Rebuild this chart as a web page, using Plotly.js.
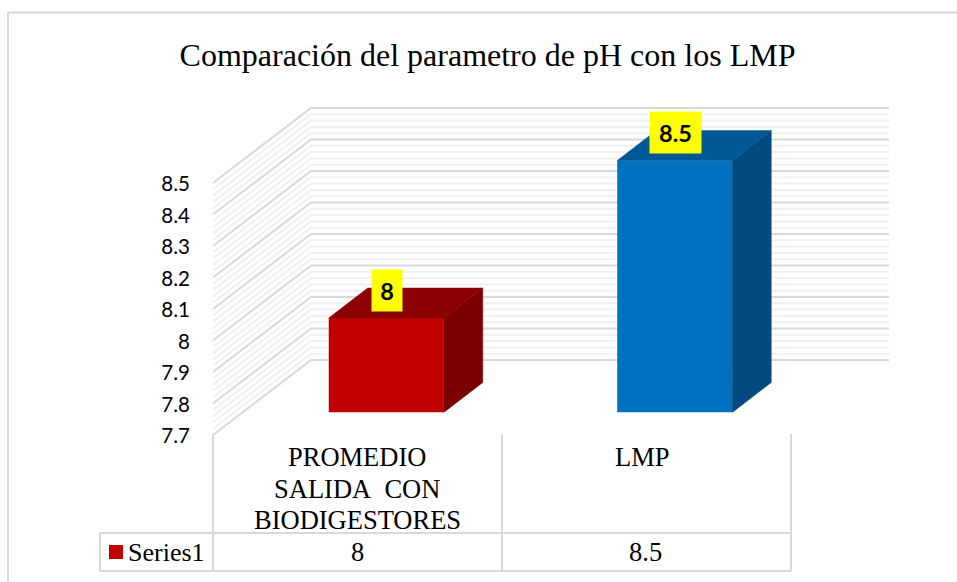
<!DOCTYPE html>
<html><head><meta charset="utf-8">
<script src="https://cdn.plot.ly/plotly-3.0.1.min.js"></script>
<style>html,body{margin:0;padding:0;background:#fff}#c{width:957px;height:582px}</style>
</head><body><div id="c"></div>
<script>
var chartTitle = 'Comparación del parametro de pH con los LMP';
var categories = ['PROMEDIO<br>SALIDA\u00a0\u00a0CON<br>BIODIGESTORES', 'LMP'];
var seriesName = 'Series1';
var values = [8, 8.5];
var tickValues = [7.7, 7.8, 7.9, 8, 8.1, 8.2, 8.3, 8.4, 8.5];
var tickLabels = ['7.7', '7.8', '7.9', '8', '8.1', '8.2', '8.3', '8.4', '8.5'];
var frontColors = ['#C00000', '#0070C0'];
var topColors = ['#8B0000', '#005896'];
var sideColors = ['#7A0000', '#004A80'];

var W = 957, H = 582;
var PX_CAT = 288.5, PX_UNIT = 315;
var BASE = 7.7;
function dx(p){return p/W;}
function dy(p){return 1-p/H;}
function catX(px){return px/PX_CAT;}
function valY(px){return px/PX_UNIT;}

// front wall plane: x=213 left, value 7.7 at y=435; bars sit deeper in the box
var L = 213, B = 435, R = 925, T = 90, barDX = 29, barDY = 22.5;
var xRange = [-0.5, -0.5 + catX(R - L)], yRange = [BASE, BASE + valY(B - T)];
var barW = 115 / PX_CAT;
var depthX = catX(39), depthY = valY(30);
var wallDX = catX(98), wallDY = valY(75), wallEndX = -0.5 + catX(889 - L);

var traces = [];
// invisible trace keeps the front-wall subplot (tick labels, wall grid) alive
traces.push({type:'scatter', mode:'markers', x:[0,1], y:values, xaxis:'x', yaxis:'y', marker:{opacity:0},
  hoverinfo:'skip', showlegend:false});
traces.push({type:'bar', x:[0,1], y:values.map(function(v){return v-BASE;}), base:BASE, width:barW,
  xaxis:'x2', yaxis:'y2', name:seriesName, showlegend:false,
  marker:{color:frontColors, line:{width:0}}, hovertemplate:'%{y}<extra></extra>'});
values.forEach(function(v,i){
  var r = i + barW/2, l = i - barW/2;
  traces.push({type:'scatter', mode:'lines', xaxis:'x2', yaxis:'y2', fill:'toself', fillcolor:sideColors[i],
    line:{width:0.5,color:sideColors[i]}, hoverinfo:'skip', showlegend:false,
    x:[r, r+depthX, r+depthX, r, r], y:[BASE, BASE+depthY, v+depthY, v, BASE]});
  traces.push({type:'scatter', mode:'lines', xaxis:'x2', yaxis:'y2', fill:'toself', fillcolor:topColors[i],
    line:{width:0.5,color:topColors[i]}, hoverinfo:'skip', showlegend:false,
    x:[l, l+depthX, r+depthX, r, l], y:[v, v+depthY, v+depthY, v, v]});
});

var shapes = [];
var n = Math.round((tickValues[tickValues.length-1]-BASE)/0.02);
for (var k=n; k>=0; k--) {
  var t = BASE + k*0.02, major = k%5===0;
  if (major) continue;
  shapes.push(gridShape(t,'#f1f1f1'));
}
for (k=n; k>=0; k-=5) shapes.push(gridShape(BASE+k*0.02,'#d9d9d9'));
function gridShape(t,c){
  return {type:'path', xref:'x', yref:'y', layer:'below', line:{color:c,width:2},
    path:'M'+(-0.5)+','+t+' L'+(-0.5+wallDX)+','+(t+wallDY)+' L'+wallEndX+','+(t+wallDY)};
}
function pline(x0,y0,x1,y1,c,w){
  return {type:'line', xref:'paper', yref:'paper', x0:dx(x0), x1:dx(x1), y0:dy(y0), y1:dy(y1), layer:'below',
    line:{color:c||'#d9d9d9', width:w||2}};
}
// chart frame
shapes.push(pline(8,12.5,957,12.5), pline(8,12.5,8,582));
// data table
var gc = '#d9d9d9';
shapes.push(pline(100,533,791,533,gc), pline(100,571,791,571,gc), pline(100,533,100,571,gc),
  pline(213,434,213,571,gc), pline(502,434,502,571,gc), pline(791,434,791,571,gc));
shapes.push({type:'rect', xref:'paper', yref:'paper', x0:dx(109), x1:dx(123), y0:dy(559), y1:dy(545),
  fillcolor:frontColors[0], line:{width:0}});

var serif = '"Liberation Serif","Times New Roman",serif', sans = 'Lato,"Open Sans",sans-serif';
var annotations = [];
// data labels
values.forEach(function(v,i){
  annotations.push({xref:'x2', yref:'y2', x:i, y:v+valY(28), text:'<b>'+v+'</b>', showarrow:false,
    xanchor:'center', yanchor:'middle', xshift:1,
    bgcolor:'#FFFF00', width:i?51:30, height:41, borderpad:0, valign:'middle', align:'center',
    font:{family:sans, size:23.5, color:'#000'}});
});
// category labels (line by line, spacing wider than a tick label allows)
categories.forEach(function(c,i){
  c.split('<br>').forEach(function(line,j){
    annotations.push({xref:'x', yref:'paper', x:i, y:dy(457+31.5*j), text:line, showarrow:false,
      xanchor:'center', yanchor:'middle',
      xshift:i?-3:0, font:{family:serif, size:26.5, color:'#000'}});
  });
  annotations.push({xref:'x', yref:'paper', x:i, y:dy(552), text:String(values[i]), showarrow:false,
    xanchor:'center', yanchor:'middle',
    font:{family:serif, size:26.5, color:'#000'}});
});
annotations.push({xref:'paper', yref:'paper', x:dx(127), xanchor:'left', yanchor:'middle', y:dy(552), text:seriesName, showarrow:false,
  borderpad:0, font:{family:serif, size:26, color:'#000'}});

var layout = {
  width:W, height:H, margin:{l:0,r:0,t:0,b:0,pad:0}, paper_bgcolor:'#fff', plot_bgcolor:'rgba(0,0,0,0)',
  showlegend:false, hovermode:'closest',
  title:{text:chartTitle, x:dx(487.5), xanchor:'center', y:dy(55), yanchor:'middle',
    font:{family:serif, size:32, color:'#000'}},
  xaxis:{domain:[dx(L),dx(R)], range:xRange, showgrid:false, zeroline:false, showline:false, showticklabels:false, ticks:'', fixedrange:true},
  xaxis2:{domain:[dx(L+barDX),dx(R+barDX)], range:xRange, anchor:'y2', showgrid:false, zeroline:false, showline:false, showticklabels:false, ticks:'', fixedrange:true},
  yaxis:{domain:[dy(B),dy(T)], range:yRange, tickmode:'array', tickvals:tickValues, ticktext:tickLabels,
    ticks:'outside', ticklen:18, tickcolor:'rgba(0,0,0,0)', tickwidth:1, showgrid:false, zeroline:false, showline:false,
    ticklabelshift:1, tickfont:{family:sans, size:20.5, color:'#000'}, fixedrange:true},
  yaxis2:{domain:[dy(B-barDY),dy(T-barDY)], range:yRange, anchor:'x2', showgrid:false, zeroline:false, showline:false, showticklabels:false, ticks:'', fixedrange:true},
  shapes:shapes, annotations:annotations
};
Plotly.newPlot('c', traces, layout, {displayModeBar:false, responsive:false});
</script></body></html>
